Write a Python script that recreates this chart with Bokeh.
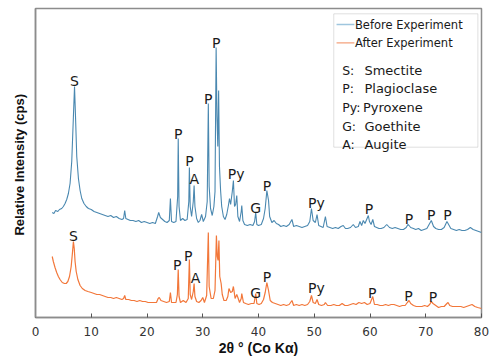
from bokeh.plotting import figure
from bokeh.models import Range1d, FixedTicker, BoxAnnotation, Label, ColumnDataSource
from bokeh.core.properties import value
from bokeh.embed import file_html
from bokeh.resources import INLINE

# ---- data (y = relative intensity, arbitrary units) ----
before_x = [3.0, 3.3, 3.6, 4.0, 4.3, 4.7, 5.0, 5.3, 5.6, 5.9, 6.2, 6.5, 6.8, 7.0, 7.2, 7.4, 7.7, 8.0, 8.3, 8.7,
            9.1, 9.5, 10.0, 10.5, 11.0, 11.5, 12.0, 12.5, 13.0, 13.5, 14.0, 14.5, 15.0, 15.5, 15.8, 16.0, 16.2, 16.6,
            17.0, 17.5, 18.0, 18.5, 19.0, 19.5, 20.0, 20.5, 21.0, 21.5, 21.9, 22.1, 22.4, 22.8, 23.2, 23.6, 24.0,
            24.2, 24.4, 24.8, 25.2, 25.5, 25.6, 25.75, 26.0, 26.4, 26.8, 27.2, 27.5, 27.6, 27.75, 28.0, 28.3, 28.45,
            28.6, 28.9, 29.2, 29.5, 29.8, 30.1, 30.5, 30.8, 31.0, 31.15, 31.4, 31.7, 32.0, 32.2, 32.4, 32.55, 32.7,
            32.85, 33.0, 33.2, 33.4, 33.7, 34.0, 34.3, 34.6, 34.8, 35.0, 35.3, 35.5, 35.7, 35.9, 36.1, 36.3, 36.6,
            36.9, 37.0, 37.2, 37.5, 38.0, 38.5, 39.0, 39.3, 39.5, 39.7, 40.0, 40.5, 40.9, 41.2, 41.5, 41.8, 42.0,
            42.4, 42.8, 43.2, 43.6, 44.0, 44.5, 45.0, 45.5, 46.0, 46.3, 46.8, 47.3, 47.8, 48.3, 48.8, 49.2, 49.5,
            49.8, 50.2, 50.5, 50.8, 51.2, 51.6, 52.0, 52.3, 52.8, 53.3, 53.8, 54.3, 54.8, 55.2, 55.6, 56.0, 56.5,
            57.0, 57.4, 57.9, 58.2, 58.5, 58.8, 59.1, 59.4, 59.7, 59.9, 60.2, 60.5, 60.8, 61.2, 61.6, 62.0, 62.5,
            63.0, 63.5, 64.0, 64.5, 65.0, 65.5, 66.0, 66.5, 66.8, 67.0, 67.3, 67.8, 68.2, 68.7, 69.2, 69.7, 70.2,
            70.6, 71.0, 71.4, 71.8, 72.3, 72.8, 73.3, 73.8, 74.1, 74.5, 75.0, 75.5, 76.0, 76.5, 77.0, 77.5, 78.0,
            78.5, 79.0, 79.5, 80.0]
before_y = [104, 103, 106, 105, 107, 108, 110, 113, 117, 123, 133, 155, 200, 230, 196, 160, 138, 126, 118, 113,
            110, 108, 107, 105, 104, 103, 102, 101, 100, 101, 99, 100, 98, 97, 98, 106, 98, 97,
            96, 96, 95, 96, 94, 95, 94, 93, 94, 93, 100, 104, 99, 97, 95, 94, 96,
            118, 95, 94, 95, 120, 178, 110, 96, 98, 96, 97, 115, 149, 110, 100, 115, 131,
            110, 98, 94, 96, 102, 95, 100, 115, 213, 130, 108, 101, 110, 125, 269, 200, 170,
            226, 150, 126, 110, 100, 97, 102, 111, 118, 112, 125, 136, 110, 112, 121, 100, 95,
            105, 111, 96, 92, 91, 92, 91, 95, 104, 92, 91, 92, 98, 108, 126, 116, 100,
            94, 96, 93, 92, 90, 91, 90, 92, 97, 90, 91, 90, 89, 90, 91, 95, 108,
            96, 94, 102, 91, 90, 89, 100, 90, 89, 88, 89, 88, 90, 91, 88, 88, 89,
            92, 89, 90, 95, 91, 96, 93, 97, 101, 95, 92, 97, 90, 89, 88, 88, 89,
            92, 89, 88, 89, 88, 87, 87, 89, 92, 91, 89, 88, 87, 88, 86, 87, 88,
            92, 96, 90, 88, 87, 87, 89, 95, 92, 88, 87, 86, 87, 86, 86, 87, 89,
            87, 86, 85, 84]

after_x = [3.0, 3.2, 3.5, 3.8, 4.1, 4.4, 4.8, 5.2, 5.5, 5.8, 6.1, 6.4, 6.6, 6.8, 6.95, 7.1, 7.3, 7.6, 8.0, 8.4,
           8.9, 9.4, 10.0, 10.5, 11.0, 11.5, 12.0, 12.5, 13.0, 13.5, 14.0, 14.5, 15.0, 15.5, 15.8, 16.0, 16.2,
           16.7, 17.2, 17.7, 18.2, 18.7, 19.2, 19.7, 20.2, 20.7, 21.2, 21.7, 22.0, 22.2, 22.5, 23.0, 23.5, 24.0,
           24.2, 24.4, 24.8, 25.2, 25.45, 25.6, 25.75, 26.0, 26.5, 27.0, 27.4, 27.6, 27.75, 28.0, 28.3, 28.45,
           28.6, 28.9, 29.3, 29.7, 30.0, 30.3, 30.7, 31.0, 31.15, 31.5, 31.9, 32.2, 32.45, 32.6, 32.75, 32.9,
           33.05, 33.3, 33.5, 33.8, 34.2, 34.5, 34.7, 35.0, 35.3, 35.5, 35.8, 36.1, 36.3, 36.6, 36.9, 37.0, 37.3,
           37.7, 38.2, 38.7, 39.2, 39.5, 39.7, 40.1, 40.5, 40.9, 41.2, 41.5, 41.8, 42.1, 42.5, 43.0, 43.5, 44.0,
           44.5, 45.0, 45.5, 46.0, 46.3, 46.8, 47.3, 47.8, 48.3, 48.8, 49.2, 49.5, 49.8, 50.2, 50.5, 50.8, 51.3,
           51.8, 52.0, 52.4, 53.0, 53.5, 54.0, 54.5, 55.0, 55.5, 56.0, 56.5, 57.0, 57.5, 58.0, 58.5, 59.0, 59.5,
           60.0, 60.5, 60.8, 61.3, 61.8, 62.3, 62.8, 63.3, 63.8, 64.3, 64.8, 65.3, 65.8, 66.3, 66.7, 67.0, 67.3,
           67.8, 68.3, 68.8, 69.3, 69.8, 70.3, 70.7, 71.0, 71.3, 71.8, 72.3, 72.8, 73.3, 73.8, 74.0, 74.3, 74.8,
           75.3, 75.8, 76.3, 76.8, 77.3, 77.8, 78.3, 78.8, 79.3, 80.0]
after_y = [60, 55, 49, 44, 40, 37, 34, 33, 33, 35, 40, 50, 62, 75, 68, 55, 45, 37, 31, 28,
           26, 25, 24, 23, 22, 22, 21, 20, 19, 19, 18, 19, 18, 17, 18, 21, 17,
           17, 16, 16, 15, 16, 15, 15, 14, 14, 14, 14, 18, 19, 16, 15, 14, 15,
           24, 14, 14, 14, 22, 47, 20, 14, 16, 14, 18, 57, 22, 17, 25, 33,
           20, 15, 14, 16, 19, 14, 21, 84, 30, 18, 18, 26, 81, 60, 56, 76,
           40, 33, 22, 16, 16, 20, 28, 24, 25, 30, 18, 22, 19, 14, 18, 23, 14,
           13, 12, 13, 13, 23, 13, 12, 13, 17, 24, 34, 26, 16, 14, 13, 12, 11,
           12, 11, 12, 16, 11, 12, 11, 12, 11, 12, 15, 21, 14, 13, 17, 12, 11,
           12, 14, 11, 11, 12, 11, 11, 13, 11, 11, 12, 13, 12, 14, 13, 14, 12,
           13, 20, 12, 12, 11, 11, 12, 11, 12, 12, 11, 10, 11, 11, 14, 16, 13,
           11, 10, 10, 10, 11, 10, 12, 15, 13, 11, 9, 10, 10, 13, 14, 11, 10,
           10, 10, 10, 9, 10, 11, 12, 10, 9, 8]

before_label_x = [7.0, 25.6, 27.6, 28.5, 31.0, 32.4, 36.0, 39.5, 41.5, 50.4, 59.8, 67.0, 71.0, 73.9]
before_label_y = [236, 183, 156, 138, 218, 274, 143, 109, 131, 114, 108, 98, 102, 102]
before_label_t = ["S", "P", "P", "A", "P", "P", "Py", "G", "P", "Py", "P", "P", "P", "P"]

after_label_x = [6.8, 25.4, 27.4, 28.7, 39.5, 41.5, 50.4, 60.4, 66.9, 71.3]
after_label_y = [81, 52, 61, 39, 24, 40, 29, 24, 21, 20]
after_label_t = ["S", "P", "P", "A", "G", "P", "Py", "P", "P", "P"]

x_ticks = [0, 10, 20, 30, 40, 50, 60, 70, 80]
series_names = ["Before Experiment", "After Experiment"]
key_abbr = ["S:", "P:", "Py:", "G:", "A:"]
key_names = ["Smectite", "Plagioclase", "Pyroxene", "Goethite", "Augite"]

BLUE = "#4a88b0"
ORANGE = "#f2773a"
FRAME = "#8c8c8c"

p = figure(width=491, height=362, output_backend="svg", toolbar_location=None,
           x_range=Range1d(0, 80), y_range=Range1d(-1, 308),
           min_border_left=35, min_border_right=10, min_border_top=8, min_border_bottom=45)
p.background_fill_color = "white"
p.border_fill_color = "white"
p.outline_line_color = FRAME
p.outline_line_width = 1.5
p.xgrid.visible = False
p.ygrid.visible = False

p.xaxis.ticker = FixedTicker(ticks=x_ticks)
p.xaxis.axis_line_color = FRAME
p.xaxis.axis_line_width = 1.5
p.xaxis.major_tick_in = 4
p.xaxis.major_tick_out = 0
p.xaxis.major_tick_line_color = "#555555"
p.xaxis.minor_tick_line_color = None
p.xaxis.major_label_text_font = "DejaVu Sans"
p.xaxis.major_label_text_font_size = "12px"
p.xaxis.major_label_text_color = "#333333"
p.xaxis.major_label_standoff = 9
p.xaxis.axis_label = "2θ ° (Co Kα)"
p.xaxis.axis_label_text_font = "Liberation Sans"
p.xaxis.axis_label_text_font_style = "bold"
p.xaxis.axis_label_text_font_size = "14px"
p.xaxis.axis_label_text_color = "#111111"
p.xaxis.axis_label_standoff = 1

p.yaxis.ticker = FixedTicker(ticks=[])
p.yaxis.axis_line_color = FRAME
p.yaxis.axis_line_width = 1.5
p.yaxis.major_tick_in = 0
p.yaxis.major_tick_out = 0
p.yaxis.minor_tick_line_color = None
p.yaxis.major_label_text_font_size = "0px"
p.yaxis.major_label_standoff = 0
p.yaxis.axis_label = "Relative Intensity  (cps)"
p.yaxis.axis_label_text_font = "Liberation Sans"
p.yaxis.axis_label_text_font_style = "bold"
p.yaxis.axis_label_text_font_size = "13px"
p.yaxis.axis_label_text_color = "#111111"
p.yaxis.axis_label_standoff = 9

p.line(before_x, before_y, line_color=BLUE, line_width=1.1)
p.line(after_x, after_y, line_color=ORANGE, line_width=1.2)

lab_src_b = ColumnDataSource(dict(x=before_label_x, y=before_label_y, t=before_label_t))
lab_src_a = ColumnDataSource(dict(x=after_label_x, y=after_label_y, t=after_label_t))
for src in (lab_src_b, lab_src_a):
    p.text(x="x", y="y", text="t", source=src, text_align="center", text_baseline="middle",
           text_font=value("DejaVu Sans"), text_font_size="14px", text_color="#1a1a1a")

# ---- legend / key box ----
p.add_layout(BoxAnnotation(left=53.5, right=79.35, bottom=169.3, top=302.7, level="underlay",
                           fill_color="white", fill_alpha=1.0, line_color="#999999", line_width=1))
leg_y = [292, 273.7]
leg_col = ["#9fc6de", "#f4a27c"]
for name, yy, c in zip(series_names, leg_y, leg_col):
    p.line([54.0, 57.2], [yy, yy], line_color=c, line_width=1.3)
    p.add_layout(Label(x=57.3, y=yy, text=name, text_baseline="middle", text_align="left",
                       text_font="DejaVu Sans", text_font_size="11.5px", text_color="#1a1a1a"))
key_y = [246, 227.7, 209, 190.3, 171.7]
key_name_x = [59.0, 59.0, 58.75, 59.0, 59.0]
for ab, nm, yy, nx in zip(key_abbr, key_names, key_y, key_name_x):
    p.add_layout(Label(x=55.0, y=yy, text=ab, text_baseline="middle", text_align="left",
                       text_font="DejaVu Sans", text_font_size="12.5px", text_color="#1a1a1a"))
    p.add_layout(Label(x=nx, y=yy, text=nm, text_baseline="middle",
                       text_align="left", text_font="DejaVu Sans", text_font_size="13px",
                       text_color="#1a1a1a"))

open("out.html", "w").write(file_html(p, INLINE))
